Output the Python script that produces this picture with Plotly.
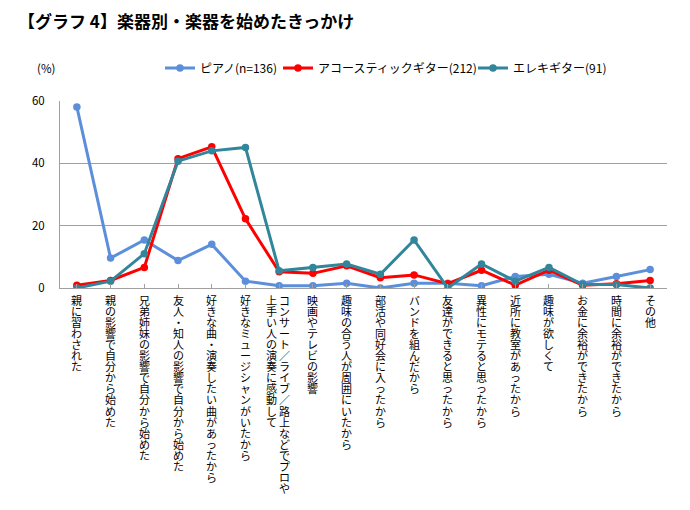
import plotly.graph_objects as go

categories = [
    "親に習わされた",
    "親の影響で自分から始めた",
    "兄弟姉妹の影響で自分から始めた",
    "友人・知人の影響で自分から始めた",
    "好きな曲・演奏したい曲があったから",
    "好きなミュージシャンがいたから",
    "コンサート／ライブ／路上などでプロや|上手い人の演奏に感動して",
    "映画やテレビの影響",
    "趣味の合う人が周囲にいたから",
    "部活や同好会に入ったから",
    "バンドを組んだから",
    "友達ができると思ったから",
    "異性にモテると思ったから",
    "近所に教室があったから",
    "趣味が欲しくて",
    "お金に余裕ができたから",
    "時間に余裕ができたから",
    "その他",
]

piano = [58.1, 9.6, 15.4, 8.8, 14.0, 2.2, 0.7, 0.7, 1.5, 0.0, 1.5, 1.5, 0.7, 3.7, 4.4, 1.5, 3.7, 5.9]
acoustic = [0.9, 2.4, 6.6, 41.5, 45.3, 22.2, 5.2, 4.7, 7.1, 3.3, 4.2, 1.4, 5.7, 0.9, 5.7, 0.9, 1.4, 2.4]
electric = [0.0, 2.2, 11.0, 40.7, 44.0, 45.1, 5.5, 6.6, 7.7, 4.4, 15.4, 0.0, 7.7, 2.2, 6.6, 1.1, 1.1, 0.0]

series_names = ["ピアノ(n=136)", "アコースティックギター(212)", "エレキギター(91)"]
series_colors = ["#5B8FDB", "#FF0000", "#31869B"]
y_ticks = [0, 20, 40, 60]

FONT = "Noto Sans CJK JP"
W, H = 690, 510
# page body adds an 8px offset; layout pixel targets are compensated for it
OFF = 8
PL, PR, PT, PB = 60 - OFF, 667 - OFF, 101 - OFF, 288 - OFF

x_idx = list(range(len(categories)))
legend_keys = ["legend", "legend2", "legend3"]
legend_x = [160, 278, 473]

fig = go.Figure()
for name, vals, col, lk in zip(series_names, [piano, acoustic, electric], series_colors, legend_keys):
    fig.add_trace(go.Scatter(
        x=x_idx, y=vals, name=name, mode="lines+markers",
        line=dict(color=col, width=3),
        marker=dict(color=col, size=7.5),
        legend=lk,
    ))


def vert(s):
    return "<br>".join(f"<span style='font-size:11px'>{c}</span>" for c in s)


annotations = []
for i, cat in enumerate(categories):
    cols = cat.split("|")
    shifts = [0] if len(cols) == 1 else [5, -8]
    for col_text, sh in zip(cols, shifts):
        annotations.append(dict(
            x=i, y=0, xref="x", yref="paper", xanchor="center", yanchor="top",
            yshift=-3, xshift=sh, showarrow=False, text=vert(col_text),
            font=dict(family=FONT, size=8.5, color="black"), borderpad=0,
        ))

annotations.append(dict(
    x=(46 - OFF - PL) / (PR - PL), y=(PB - (68 - OFF)) / (PB - PT),
    xref="paper", yref="paper", xanchor="center", yanchor="middle",
    showarrow=False, text="(%)",
    font=dict(family=FONT, size=11.5, color="black"),
))

legend_common = dict(
    orientation="h", xref="container", yref="container",
    xanchor="left", y=1 - (68 - OFF) / H, yanchor="middle",
    font=dict(family=FONT, size=12, color="black"),
    itemwidth=30, bgcolor="rgba(0,0,0,0)",
)

fig.update_layout(
    width=W, height=H,
    margin=dict(l=PL, r=W - PR, t=PT, b=H - PB, autoexpand=False),
    paper_bgcolor="white", plot_bgcolor="white",
    font=dict(family=FONT, color="black"),
    title=dict(
        text="【グラフ 4】楽器別・楽器を始めたきっかけ",
        x=(18 - OFF) / W, xanchor="left", xref="container",
        y=1 - (22 - OFF) / H, yanchor="middle", yref="container",
        font=dict(family=FONT, size=17, color="black", weight="bold"),
    ),
    legend=dict(legend_common, x=(legend_x[0] - OFF) / W),
    legend2=dict(legend_common, x=(legend_x[1] - OFF) / W),
    legend3=dict(legend_common, x=(legend_x[2] - OFF) / W),
    annotations=annotations,
    showlegend=True,
)

fig.update_xaxes(
    range=[-0.5, len(categories) - 0.5], tickmode="array", tickvals=x_idx,
    showticklabels=False, showgrid=False, zeroline=False,
    showline=True, linecolor="#A0A0A0", linewidth=1,
    ticks="inside", tickson="boundaries", ticklen=4, tickcolor="#A0A0A0",
)
fig.update_yaxes(
    range=[0, 60], tickmode="array", tickvals=y_ticks,
    showgrid=True, gridcolor="#A0A0A0", gridwidth=1, zeroline=False,
    showline=True, linecolor="#A0A0A0", linewidth=1,
    ticks="", ticklabelstandoff=12,
    tickfont=dict(family=FONT, size=11.5, color="black"),
)

fig.write_html("out.html")
